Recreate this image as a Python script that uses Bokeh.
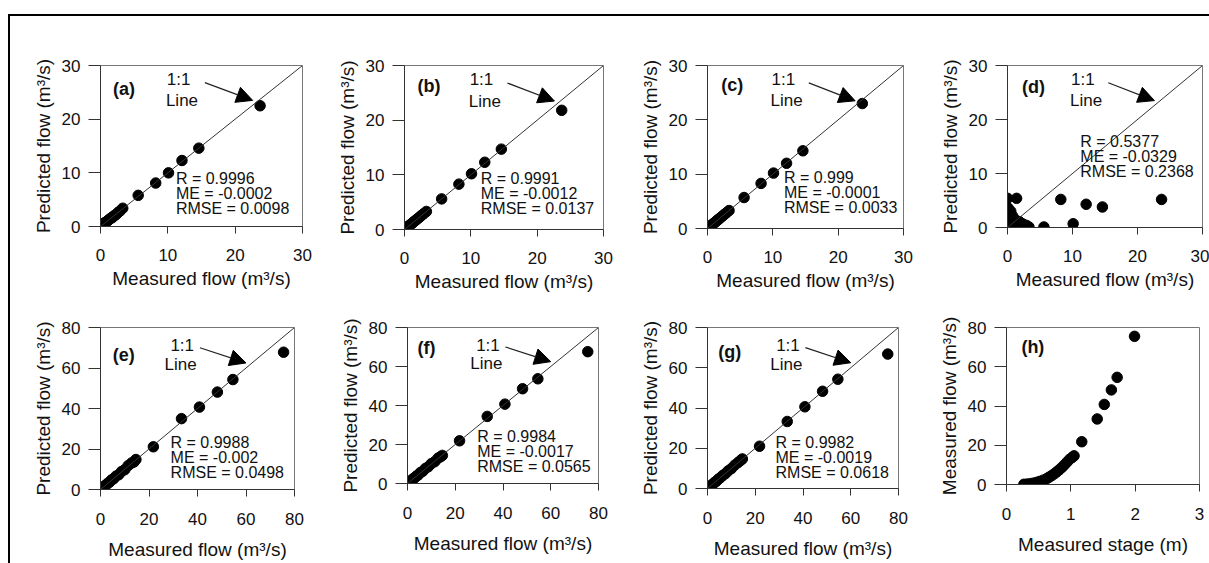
from bokeh.plotting import figure
from bokeh.layouts import row, column
from bokeh.models import FixedTicker, Slope, Arrow, NormalHead, Label, Div, Spacer
from bokeh.embed import file_html
from bokeh.resources import INLINE

# ---------------- data: top row (panels a-d) ----------------
meas_top = [0.02, 0.05, 0.1, 0.15, 0.2, 0.3, 0.4, 0.5, 0.6, 0.8, 1.0, 1.2, 1.4,
            1.6, 1.8, 2.0, 2.3, 2.6, 2.9, 3.3, 5.6, 8.2, 10.1, 12.1, 14.6, 23.7]
pred_a = [0.0, 0.1, 0.1, 0.2, 0.2, 0.3, 0.4, 0.5, 0.7, 0.8, 1.0, 1.2, 1.4,
          1.6, 1.7, 2.0, 2.2, 2.6, 2.9, 3.4, 5.8, 8.1, 10.0, 12.3, 14.6, 22.5]
pred_b = [0.0, 0.1, 0.1, 0.2, 0.2, 0.3, 0.4, 0.5, 0.6, 0.8, 1.0, 1.2, 1.4,
          1.6, 1.8, 2.0, 2.3, 2.6, 2.9, 3.3, 5.6, 8.3, 10.2, 12.3, 14.7, 21.8]
pred_c = [0.0, 0.1, 0.1, 0.2, 0.2, 0.3, 0.4, 0.5, 0.6, 0.8, 1.0, 1.2, 1.4,
          1.6, 1.8, 2.0, 2.3, 2.6, 2.9, 3.3, 5.7, 8.3, 10.2, 12.0, 14.3, 23.0]
pred_d = [5.4, 0.1, 3.6, 0.9, 2.4, 1.6, 0.4, 3.0, 1.0, 2.1, 0.2, 1.4, 5.4,
          0.6, 1.1, 0.3, 0.7, 0.2, 0.4, 0.1, 0.1, 5.2, 0.7, 4.3, 3.8, 5.2]

# ---------------- data: bottom row (panels e-h) ----------------
meas_bot = [0.1, 0.2, 0.4, 0.7, 1.1, 1.6, 2.2, 2.9, 3.7, 4.5, 5.4, 6.4, 7.5,
            8.7, 10.0, 11.4, 12.8, 13.8, 14.6, 21.8, 33.4, 40.8, 48.2, 54.6, 75.5]
stage_h = [0.27, 0.32, 0.37, 0.42, 0.47, 0.52, 0.57, 0.62, 0.66, 0.70, 0.74, 0.78, 0.82,
           0.86, 0.90, 0.94, 0.98, 1.02, 1.05, 1.17, 1.41, 1.52, 1.63, 1.72, 1.99]
pred_e = [0.1, 0.3, 0.4, 0.8, 1.0, 1.7, 2.1, 3.0, 3.6, 4.7, 5.3, 6.6, 7.3,
          8.9, 9.8, 11.8, 13.1, 13.6, 14.8, 21.1, 35.0, 40.7, 48.1, 54.3, 67.8]
pred_f = [0.1, 0.2, 0.5, 0.7, 1.2, 1.5, 2.3, 2.8, 3.8, 4.4, 5.6, 6.3, 7.7,
          8.6, 10.2, 11.2, 13.0, 13.7, 14.4, 21.9, 34.4, 40.7, 48.6, 53.7, 67.6]
pred_g = [0.1, 0.2, 0.4, 0.8, 1.1, 1.6, 2.1, 3.0, 3.6, 4.6, 5.4, 6.5, 7.4,
          8.8, 9.9, 11.6, 12.9, 13.9, 14.7, 21.0, 33.3, 40.6, 48.3, 54.3, 66.8]

ticks_30 = [0, 10, 20, 30]
ticks_80 = [0, 20, 40, 60, 80]
ticks_3 = [0, 1, 2, 3]

stats = {
    "a": ["R = 0.9996", "ME = -0.0002", "RMSE = 0.0098"],
    "b": ["R = 0.9991", "ME = -0.0012", "RMSE = 0.0137"],
    "c": ["R = 0.999", "ME = -0.0001", "RMSE = 0.0033"],
    "d": ["R = 0.5377", "ME = -0.0329", "RMSE = 0.2368"],
    "e": ["R = 0.9988", "ME = -0.002", "RMSE = 0.0498"],
    "f": ["R = 0.9984", "ME = -0.0017", "RMSE = 0.0565"],
    "g": ["R = 0.9982", "ME = -0.0019", "RMSE = 0.0618"],
}

FONT = "Liberation Sans"
XLAB = "Measured flow (m³/s)"
YLAB = "Predicted flow (m³/s)"


def make_fig(geom, xmax, ymax, xticks, yticks, xlabel, ylabel, xstand, xlabstand):
    bl, fw, br, bt, fh, bb = geom
    p = figure(frame_width=fw, frame_height=fh,
               min_border_left=bl, min_border_right=br,
               min_border_top=bt, min_border_bottom=bb,
               x_range=(0, xmax), y_range=(0, ymax), margin=0,
               output_backend="svg", toolbar_location=None, tools="")
    p.xgrid.visible = False
    p.ygrid.visible = False
    p.outline_line_color = "#777777"
    p.outline_line_width = 1
    p.background_fill_color = "white"
    p.border_fill_color = "white"
    p.xaxis.ticker = FixedTicker(ticks=xticks)
    p.yaxis.ticker = FixedTicker(ticks=yticks)
    p.xaxis.axis_label = xlabel
    p.yaxis.axis_label = ylabel
    for ax in (p.xaxis[0], p.yaxis[0]):
        ax.major_label_text_font = FONT
        ax.major_label_text_font_size = "17px"
        ax.major_label_text_color = "#111111"
        ax.axis_label_text_font = FONT
        ax.axis_label_text_font_size = "19px"
        ax.axis_label_text_font_style = "normal"
        ax.axis_label_text_color = "#111111"
        ax.minor_tick_line_color = None
        ax.major_tick_in = 0
        ax.axis_line_color = "#333333"
        ax.major_tick_line_color = "#333333"
    p.yaxis.major_tick_out = 12
    p.xaxis.major_tick_out = 7
    p.yaxis.major_label_standoff = 8
    p.xaxis.major_label_standoff = xstand
    p.yaxis.axis_label_standoff = 5
    p.xaxis.axis_label_standoff = xlabstand
    return p


def add_common(p, letter, lx, ly):
    p.add_layout(Label(x=lx, y=ly, text="(" + letter + ")", text_font=FONT,
                       text_font_size="18px", text_font_style="bold",
                       text_align="center", text_baseline="middle",
                       text_color="#111111"))


def add_oneone(p, t1, t2, a0, a1):
    p.add_layout(Slope(gradient=1, y_intercept=0, line_color="#333333", line_width=1))
    p.add_layout(Label(x=t1[0], y=t1[1], text="1:1", text_font=FONT, text_font_size="17px",
                       text_align="center", text_baseline="middle", text_color="#111111"))
    p.add_layout(Label(x=t2[0], y=t2[1], text="Line", text_font=FONT, text_font_size="17px",
                       text_align="center", text_baseline="middle", text_color="#111111"))
    p.add_layout(Arrow(x_start=a0[0], y_start=a0[1], x_end=a1[0], y_end=a1[1],
                       line_color="#222222", line_width=1.2,
                       end=NormalHead(size=16, fill_color="black", line_color="black")))


def add_stats(p, lines, sx, sy):
    for i, s in enumerate(lines):
        p.add_layout(Label(x=sx, y=sy, y_offset=-15 * i, text=s, text_font=FONT,
                           text_font_size="16px", text_align="left", text_baseline="middle",
                           text_color="#111111"))


# geometry: (border_left, frame_w, border_right, border_top, frame_h, border_bottom)
G = {
    "a": (90, 202, 28, 49, 161, 82),
    "b": (74, 199, 27, 45, 164, 83),
    "c": (77, 196, 27, 46, 163, 83),
    "d": (77, 195, 7, 46, 162, 84),
    "e": (90, 194, 36, 15, 162, 89),
    "f": (77, 191, 32, 19, 156, 95),
    "g": (77, 191, 32, 15, 161, 94),
    "h": (76, 193, 10, 19, 157, 94),
}

top_preds = {"a": pred_a, "b": pred_b, "c": pred_c, "d": pred_d}
top_figs = []
lab_pos_top = {"a": (3.5, 25.6), "b": (3.7, 26.2), "c": (3.8, 26.4), "d": (4.0, 26.0)}
stat_pos_top = {"a": (11.2, 8.9), "b": (11.5, 9.4), "c": (11.7, 9.4), "d": (11.2, 15.9)}
for k in ["a", "b", "c", "d"]:
    p = make_fig(G[k], 30, 30, ticks_30, ticks_30, XLAB, YLAB, 15, 4)
    add_oneone(p, (11.6, 27.4), (12.1, 23.5), (15.5, 26.8), (22.6, 23.5))
    p.scatter(meas_top, top_preds[k], size=10.5, color="black")
    add_common(p, k, *lab_pos_top[k])
    add_stats(p, stats[k], *stat_pos_top[k])
    top_figs.append(p)

bot_preds = {"e": pred_e, "f": pred_f, "g": pred_g}
lab_pos_bot = {"e": (9.6, 66.5), "f": (8.0, 69.5), "g": (9.3, 68.0)}
stat_pos_bot = {"e": (28.9, 23.3), "f": (29.2, 24.0), "g": (28.5, 23.0)}
bot_figs = []
for k in ["e", "f", "g"]:
    p = make_fig(G[k], 80, 80, ticks_80, ticks_80, XLAB, YLAB, 16, 11)
    add_oneone(p, (33.7, 71.0), (33.0, 61.5), (41.0, 70.0), (60.0, 62.5))
    p.scatter(meas_bot, bot_preds[k], size=10.5, color="black")
    add_common(p, k, *lab_pos_bot[k])
    add_stats(p, stats[k], *stat_pos_bot[k])
    bot_figs.append(p)

ph = make_fig(G["h"], 3, 80, ticks_3, ticks_80, "Measured stage (m)", "Measured flow (m³/s)", 16, 11)
ph.scatter(stage_h, meas_bot, size=10.5, color="black")
add_common(ph, "h", 0.41, 70.0)
bot_figs.append(ph)

top_line = Div(text="", width=1201, height=2, margin=0,
               styles={"background-color": "black", "padding": "0", "margin": "0"})
left_line = Div(text="", width=2, height=558, margin=0,
                styles={"background-color": "black", "padding": "0", "margin": "0"})
grid = column(row(*top_figs, spacing=0, margin=0), row(*bot_figs, spacing=0, margin=0),
              spacing=0, margin=0)
framed = column(top_line, row(left_line, grid, spacing=0, margin=0), spacing=0, margin=0)
layout = column(Spacer(height=14, width=1209, margin=0),
                row(Spacer(width=8, height=560, margin=0), framed, spacing=0, margin=0),
                spacing=0, margin=0)

open("out.html", "w").write(file_html(layout, INLINE))
